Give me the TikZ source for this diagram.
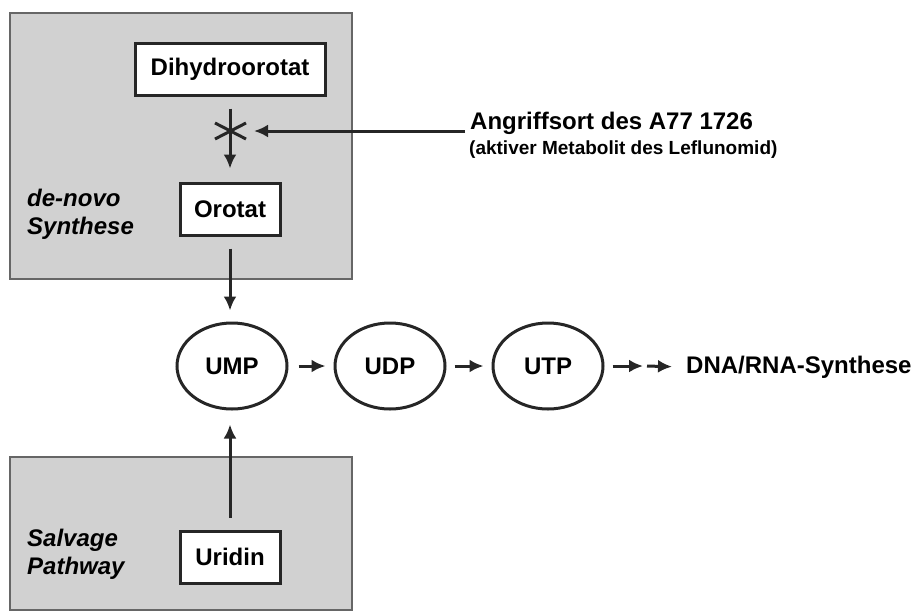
\documentclass[tikz,border=0pt]{standalone}
\usepackage{fontspec}
\setmainfont{Liberation Sans}
\usetikzlibrary{shapes.geometric,arrows.meta}
\begin{document}
\begin{tikzpicture}[x=1pt,y=-1pt,
  fnt/.style={font=\fontsize{24}{26}\selectfont\bfseries},
  region/.style={draw=black!60,line width=2.2pt,fill=black!18},
  box/.style={draw=black!85,line width=3pt,fill=white,fnt,inner sep=0pt,minimum height=52pt},
  ell/.style={ellipse,draw=black!85,line width=3pt,fnt,inner sep=0pt,minimum width=110pt,minimum height=86pt},
  lbl/.style={fnt,font=\fontsize{24}{28}\selectfont\bfseries\itshape,align=left,anchor=west},
  arr/.style={line width=3pt,draw=black!85,-{Latex[length=14pt,width=13pt]}}]
\useasboundingbox (0,0) rectangle (917,611);
% regions
\path[region] (10,13) rectangle (352,279);
\path[region] (10,457) rectangle (352,610);
% nodes
\node[box,minimum width=190pt] (dih) at (230,69) {Dihydroorotat};
\node[box,minimum width=100pt] (oro) at (230,209) {Orotat};
\node[box,minimum width=100pt] (uri) at (230,557) {Uridin};
\node[ell] (ump) at (232,366) {UMP};
\node[ell] (udp) at (390,366) {UDP};
\node[ell] (utp) at (548,366) {UTP};
\node[fnt,anchor=west,inner sep=0pt] (dna) at (686,367) {DNA/RNA-Synthese};
\node[lbl,inner sep=0pt] (denovo) at (27,214) {de-novo\\Synthese};
\node[lbl,inner sep=0pt] (salv) at (27,554) {Salvage\\Pathway};
\node[fnt,anchor=west,inner sep=0pt] (angr) at (470,123) {Angriffsort des A77 1726};
\node[font=\fontsize{19}{21}\selectfont\bfseries,anchor=west,inner sep=0pt] (akt) at (469,150) {(aktiver Metabolit des Leflunomid)};
\coordinate (cross) at (230,131);
\coordinate (attack) at (465,131);
\coordinate (mid) at (645,366);
% connectors
\draw[arr,shorten <=12pt,shorten >=13pt] (dih.south) -- (oro.north);
\draw[line width=3pt,draw=black!85] ([shift={(-15,-8)}]cross) -- ([shift={(16,8)}]cross)
  ([shift={(-15,8)}]cross) -- ([shift={(16,-8)}]cross);
\draw[arr,shorten >=24pt] (attack) -- (cross);
\draw[arr,shorten <=12pt,shorten >=11pt] (oro.south) -- (oro.south |- ump.north);
\draw[arr,shorten <=12pt,shorten >=14pt] (uri.north) -- (uri.north |- ump.south);
\draw[arr,shorten <=10pt,shorten >=8pt] (ump.east) -- (udp.west);
\draw[arr,shorten <=8pt,shorten >=8pt] (udp.east) -- (utp.west);
\draw[arr,shorten <=8pt,shorten >=2pt] (utp.east) -- (mid);
\draw[arr,shorten <=2pt,shorten >=14pt] (mid) -- (dna.west);
\end{tikzpicture}
\end{document}
